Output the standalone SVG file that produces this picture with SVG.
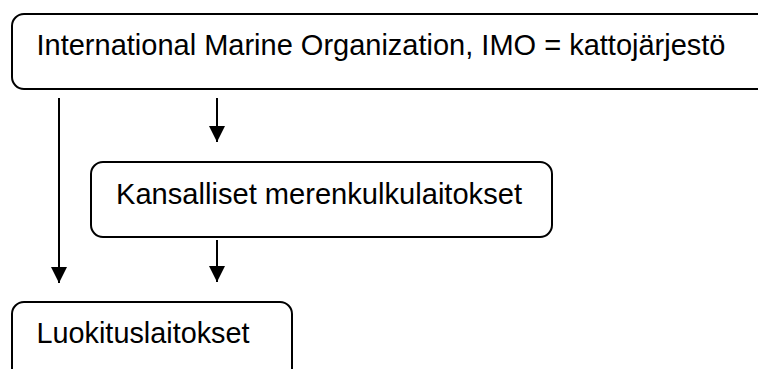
<svg xmlns="http://www.w3.org/2000/svg" width="758" height="369" viewBox="0 0 758 369">
<style>
.box{fill:#fff;stroke:#000;stroke-width:2}
.t{font-family:"Liberation Sans",Arial,sans-serif;font-size:30px;fill:#000}
.c{stroke:#000;stroke-width:2;fill:none}
</style>
<defs>
<marker id="ah" markerUnits="userSpaceOnUse" markerWidth="16" markerHeight="16" refX="16" refY="8" orient="auto" viewBox="0 0 16 16">
<path d="M0,0 L16,8 L0,16 Z" fill="#000"/>
</marker>
</defs>
<rect width="758" height="369" fill="#fff"/>
<g id="imo">
<rect class="box" x="12" y="14" width="770" height="75" rx="12"/>
<text class="t" x="36.5" y="55" textLength="689" lengthAdjust="spacingAndGlyphs">International Marine Organization, IMO = kattojärjestö</text>
</g>
<g id="kansalliset">
<rect class="box" x="91" y="162" width="461" height="75" rx="12"/>
<text class="t" x="116" y="204" textLength="406" lengthAdjust="spacingAndGlyphs">Kansalliset merenkulkulaitokset</text>
</g>
<g id="luokitus">
<rect class="box" x="12" y="302" width="280" height="90" rx="12"/>
<text class="t" x="36.5" y="343" textLength="213" lengthAdjust="spacingAndGlyphs">Luokituslaitokset</text>
</g>
<g id="connectors">
<line class="c" x1="59" y1="98" x2="59" y2="283" marker-end="url(#ah)"/>
<line class="c" x1="217" y1="98" x2="217" y2="142" marker-end="url(#ah)"/>
<line class="c" x1="217" y1="240" x2="217" y2="282" marker-end="url(#ah)"/>
</g>
</svg>
